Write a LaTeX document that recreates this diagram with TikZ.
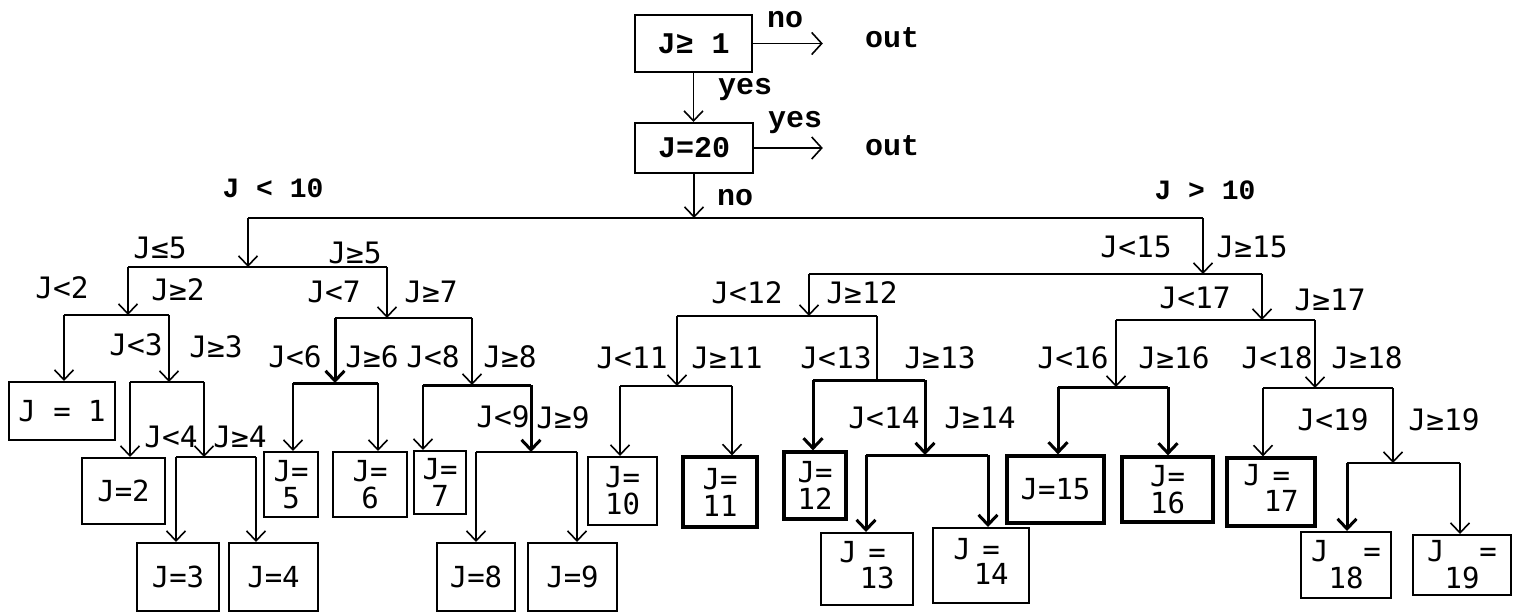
\documentclass[tikz,border=0pt]{standalone}
\usepackage{fontspec}
\newfontfamily\typed{Liberation Mono}
\newfontfamily\hand{DejaVu Sans Mono}
\usetikzlibrary{arrows.meta}
\begin{document}
\begin{tikzpicture}[x=1pt,y=-1pt,
  tbox/.style={draw,line width=2pt,inner sep=0pt,font=\typed\bfseries\fontsize{30}{32}\selectfont},
  tlab/.style={inner sep=0pt,font=\typed\bfseries\fontsize{30}{32}\selectfont},
  slab/.style={inner sep=0pt,font=\typed\bfseries\fontsize{28}{30}\selectfont},
  lab/.style={inner sep=0pt,font=\hand\fontsize{29.5}{31}\selectfont},
  jbox/.style={draw,line width=2pt,inner sep=0pt,align=center,font=\hand\fontsize{29}{27}\selectfont},
  bjbox/.style={jbox,line width=3.2pt},
  ln/.style={line width=1.6pt},
  bln/.style={line width=3pt},
  arr/.style={-{Straight Barb[length=10pt,width=19pt]}},
  oarr/.style={-{Straight Barb[length=10pt,width=22pt]}}
]
\useasboundingbox (0,0) rectangle (1518,613);

% ---- top decisions
\node[tbox,minimum width=117pt,minimum height=57pt] (b1) at (693.5,43.5) {J≥ 1};
\node[tbox,minimum width=118pt,minimum height=50pt] (b20) at (694,148) {J=20};
\node[tlab] (out1) at (892,38) {out};
\node[tlab] (out2) at (892,146) {out};
\node[tlab] (no1) at (785,20) {no};
\node[tlab] (yes1) at (745,90) {yes};
\node[tlab] (yes2) at (795,123) {yes};
\node[tlab] (no2) at (735,198) {no};
\draw[ln,oarr,shorten >=42pt] (b1.east) -- (b1.east -| out1.west);
\draw[ln,oarr,shorten >=42pt] (b20.east) -- (b20.east -| out2.west);
\draw[ln,arr] (b1.south) -- (b1.south |- b20.north);

% ---- leaf boxes
\node[jbox,minimum width=106pt,minimum height=58pt] (j1) at (62,411) {J = 1};
\node[jbox,minimum width=83pt,minimum height=66pt] (j2) at (123.5,491) {J=2};
\node[jbox,minimum width=82pt,minimum height=68pt] (j3) at (178,577) {J=3};
\node[jbox,minimum width=89pt,minimum height=68pt] (j4) at (273.5,577) {J=4};
\node[jbox,minimum width=54pt,minimum height=65pt] (j5) at (291,484.5) {J=\\5};
\node[jbox,minimum width=74pt,minimum height=65pt] (j6) at (370,484.5) {J=\\6};
\node[jbox,minimum width=52pt,minimum height=63pt] (j7) at (440,482.5) {J=\\7};
\node[jbox,minimum width=78pt,minimum height=68pt] (j8) at (476,577) {J=8};
\node[jbox,minimum width=89pt,minimum height=68pt] (j9) at (572.5,577) {J=9};
\node[jbox,minimum width=69pt,minimum height=68pt] (j10) at (622.5,491) {J=\\10};
\node[bjbox,minimum width=74pt,minimum height=70pt] (j11) at (720,492) {J=\\11};
\node[bjbox,minimum width=62pt,minimum height=67pt] (j12) at (815,485.5) {J=\\12};
\node[jbox,minimum width=92pt,minimum height=72pt] (j13) at (867,569)
  {\begin{tabular}{@{}l@{\hspace{3pt}}c@{}}J&=\\[-4pt]&13\end{tabular}};
\node[jbox,minimum width=96pt,minimum height=75pt] (j14) at (981,565.5)
  {\begin{tabular}{@{}l@{\hspace{3pt}}c@{}}J&=\\[-4pt]&14\end{tabular}};
\node[bjbox,minimum width=97pt,minimum height=67pt] (j15) at (1055.5,489.5) {J=15};
\node[bjbox,minimum width=91pt,minimum height=65pt] (j16) at (1167.5,489.5) {J=\\16};
\node[bjbox,minimum width=88pt,minimum height=68pt] (j17) at (1271,492)
  {\begin{tabular}{@{}l@{\hspace{3pt}}c@{}}J&=\\[-4pt]&17\end{tabular}};
\node[jbox,minimum width=90pt,minimum height=66pt] (j18) at (1346,565) {J\ \ =\\18};
\node[jbox,minimum width=98pt,minimum height=60pt] (j19) at (1462,565) {J\ \ =\\19};

% ---- junction coordinates
\coordinate (t0) at (694,218); \coordinate (a0L) at (248,218); \coordinate (a0R) at (1203,218);
\coordinate (l1) at (248,267); \coordinate (l1L) at (128,267); \coordinate (l1R) at (387,267);
\coordinate (l2) at (128,315); \coordinate (l2L) at (64,315);  \coordinate (l2R) at (169,315);
\coordinate (l3) at (169,382); \coordinate (l3L) at (130,382); \coordinate (l3R) at (204,382);
\coordinate (l4) at (204,457); \coordinate (l4L) at (176,457); \coordinate (l4R) at (256,457);
\coordinate (m2) at (387,318); \coordinate (m2L) at (335,318); \coordinate (m2R) at (472,318);
\coordinate (m3) at (335,383); \coordinate (m3L) at (293,383); \coordinate (m3R) at (378,383);
\coordinate (n3) at (472,385); \coordinate (n3L) at (423,385); \coordinate (n3R) at (531,385);
\coordinate (n4) at (531,452); \coordinate (n4L) at (476,452); \coordinate (n4R) at (577,452);
\coordinate (r1) at (1203,274); \coordinate (r1L) at (809,274); \coordinate (r1R) at (1262,274);
\coordinate (p2) at (809,316); \coordinate (p2L) at (677,316); \coordinate (p2R) at (877,316);
\coordinate (p3) at (677,386); \coordinate (p3L) at (620,386); \coordinate (p3R) at (732,386);
\coordinate (q3) at (877,380); \coordinate (q3L) at (813,380); \coordinate (q3R) at (925,380);
\coordinate (q4) at (925,455); \coordinate (q4L) at (866,455); \coordinate (q4R) at (988,455);
\coordinate (s2) at (1262,320); \coordinate (s2L) at (1116,320); \coordinate (s2R) at (1315,320);
\coordinate (s3) at (1116,387); \coordinate (s3L) at (1058,387); \coordinate (s3R) at (1168,387);
\coordinate (u3) at (1315,388); \coordinate (u3L) at (1263,388); \coordinate (u3R) at (1393,388);
\coordinate (u4) at (1393,463); \coordinate (u4L) at (1347,463); \coordinate (u4R) at (1460,463);

% ---- bars
\draw[ln] (a0L) -- (a0R);
\draw[ln] (l1L) -- (l1R);
\draw[ln] (l2L) -- (l2R);
\draw[ln] (l3L) -- (l3R);
\draw[ln] (l4L) -- (l4R);
\draw[ln] (m2L) -- (m2R);
\draw[bln] (m3L) -- (m3R);
\draw[bln] (n3L) -- (n3R);
\draw[ln] (n4L) -- (n4R);
\draw[ln] (r1L) -- (r1R);
\draw[ln] (p2L) -- (p2R);
\draw[ln] (p3L) -- (p3R);
\draw[bln] (q3L) -- (q3R);
\draw[bln] (q4L) -- (q4R);
\draw[ln] (s2L) -- (s2R);
\draw[bln] (s3L) -- (s3R);
\draw[ln] (u3L) -- (u3R);
\draw[ln] (u4L) -- (u4R);

% ---- drops
\draw[ln,arr] (b20.south) -- (t0);
\draw[ln,arr] (a0L) -- (l1);
\draw[ln,arr] (a0R) -- (r1);
\draw[ln,arr] (l1L) -- (l2);
\draw[ln,arr] (l2L) -- (l2L |- j1.north);
\draw[ln,arr] (l2R) -- (l3);
\draw[ln,arr] (l3L) -- (l3L |- j2.north);
\draw[ln,arr] (l3R) -- (l4);
\draw[ln,arr] (l4L) -- (l4L |- j3.north);
\draw[ln,arr] (l4R) -- (l4R |- j4.north);
\draw[ln,arr] (l1R) -- (m2);
\draw[bln,arr] (m2L) -- (m3);
\draw[ln,arr] (m3L) -- (m3L |- j5.north);
\draw[ln,arr] (m3R) -- (m3R |- j6.north);
\draw[ln,arr] (m2R) -- (n3);
\draw[ln,arr] (n3L) -- (n3L |- j7.north);
\draw[bln,arr] (n3R) -- (n4);
\draw[ln,arr] (n4L) -- (n4L |- j8.north);
\draw[ln,arr] (n4R) -- (n4R |- j9.north);
\draw[ln,arr] (r1L) -- (p2);
\draw[ln,arr] (p2L) -- (p3);
\draw[ln,arr] (p3L) -- (p3L |- j10.north);
\draw[ln,arr] (p3R) -- (p3R |- j11.north);
\draw[ln] (p2R) -- (q3);
\draw[bln,arr] (q3L) -- (q3L |- j12.north);
\draw[bln,arr] (q3R) -- (q4);
\draw[bln,arr] (q4L) -- (q4L |- j13.north);
\draw[bln,arr] (q4R) -- (q4R |- j14.north);
\draw[ln,arr] (r1R) -- (s2);
\draw[ln,arr] (s2L) -- (s3);
\draw[bln,arr] (s3L) -- (s3L |- j15.north);
\draw[bln,arr] (s3R) -- (s3R |- j16.north);
\draw[ln,arr] (s2R) -- (u3);
\draw[ln,arr] (u3L) -- (u3L |- j17.north);
\draw[ln,arr] (u3R) -- (u4);
\draw[bln,arr] (u4L) -- (u4L |- j18.north);
\draw[ln,arr] (u4R) -- (u4R |- j19.north);

% ---- branch labels
\node[slab] (lt10) at (273,188) {J < 10};
\node[slab] (gt10) at (1205,190) {J > 10};
\node[lab] (le5) at (160,248) {J≤5};
\node[lab] (ge5) at (355,253) {J≥5};
\node[lab] (lt2) at (62,288) {J<2};
\node[lab] (ge2) at (178,290) {J≥2};
\node[lab] (lt7) at (334,292) {J<7};
\node[lab] (ge7) at (431,292) {J≥7};
\node[lab] (lt3) at (136,345) {J<3};
\node[lab] (ge3) at (216,347) {J≥3};
\node[lab] (lt6) at (295,357) {J<6};
\node[lab] (ge6) at (372,357) {J≥6};
\node[lab] (lt8) at (433,357) {J<8};
\node[lab] (ge8) at (510,357) {J≥8};
\node[lab] (lt4) at (171,437) {J<4};
\node[lab] (ge4) at (240,437) {J≥4};
\node[lab] (lt9) at (503,417) {J<9};
\node[lab] (ge9) at (563,418) {J≥9};
\node[lab] (lt12) at (747,293) {J<12};
\node[lab] (ge12) at (862,293) {J≥12};
\node[lab] (lt11) at (632,358) {J<11};
\node[lab] (ge11) at (727,358) {J≥11};
\node[lab] (lt13) at (836,358) {J<13};
\node[lab] (ge13) at (940,358) {J≥13};
\node[lab] (lt14) at (884,418) {J<14};
\node[lab] (ge14) at (980,418) {J≥14};
\node[lab] (lt15) at (1136,247) {J<15};
\node[lab] (ge15) at (1252,247) {J≥15};
\node[lab] (lt17) at (1195,298) {J<17};
\node[lab] (ge17) at (1330,300) {J≥17};
\node[lab] (lt16) at (1073,358) {J<16};
\node[lab] (ge16) at (1174,358) {J≥16};
\node[lab] (lt18) at (1277,358) {J<18};
\node[lab] (ge18) at (1367,358) {J≥18};
\node[lab] (lt19) at (1333,420) {J<19};
\node[lab] (ge19) at (1444,420) {J≥19};
\end{tikzpicture}
\end{document}
